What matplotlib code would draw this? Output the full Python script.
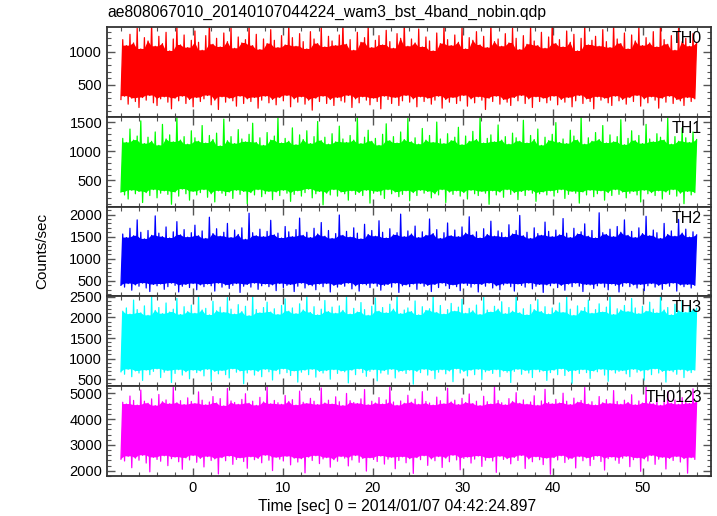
import numpy as np
import matplotlib
matplotlib.use("Agg")
import matplotlib.pyplot as plt
from matplotlib.ticker import MultipleLocator

plt.rcParams["font.family"] = ["Liberation Sans", "DejaVu Sans"]

TITLE = "ae808067010_20140107044224_wam3_bst_4band_nobin.qdp"
XLABEL = "Time [sec] 0 = 2014/01/07 04:42:24.897"
YLABEL = "Counts/sec"

T_START, T_STOP = -8.0, 56.0

bands = ["TH0", "TH1", "TH2", "TH3", "TH0123"]
colors = ["#ff0000", "#00ff00", "#0000ff", "#00ffff", "#ff00ff"]
ylims = [(20, 1370), (50, 1590), (150, 2180), (330, 2510), (1800, 5270)]
major_step = [500, 500, 500, 500, 1000]
minor_step = [100, 100, 100, 100, 200]

# peak / trough of the count rate in each 0.4 s slice
th0_hi = [
    1180, 1090, 1260, 1130, 1350, 1040, 1210, 1160, 1420, 1080, 1230, 1120, 1290, 1010, 1190, 1380, 1100, 1250, 1060, 1170,
    1310, 1140, 1020, 1240, 1450, 1110, 1200, 1070, 1280, 1150, 1360, 1050, 1220, 1130, 1180, 1400, 1090, 1260, 1030, 1190,
    1120, 1330, 1170, 1060, 1240, 1100, 1410, 1210, 1080, 1270, 1150, 1040, 1300, 1190, 1120, 1370, 1070, 1230, 1160, 1090,
    1250, 1440, 1110, 1180, 1020, 1290, 1140, 1210, 1390, 1060, 1170, 1240, 1100, 1320, 1150, 1050, 1270, 1200, 1430, 1080,
    1190, 1130, 1340, 1070, 1220, 1160, 1010, 1280, 1120, 1400, 1180, 1090, 1250, 1140, 1360, 1040, 1210, 1170, 1300, 1100,
    1230, 1060, 1420, 1150, 1190, 1080, 1270, 1130, 1350, 1200, 1030, 1240, 1110, 1380, 1160, 1090, 1290, 1050, 1220, 1450,
    1120, 1180, 1070, 1310, 1140, 1260, 1010, 1200, 1390, 1100, 1170, 1230, 1080, 1330, 1150, 1060, 1410, 1190, 1120, 1280,
    1040, 1250, 1160, 1370, 1090, 1210, 1130, 1300, 1070, 1440, 1180, 1110, 1240, 1020, 1350, 1150, 1200, 1080, 1270, 1130,
]
th0_lo = [
    280, 330, 210, 300, 250, 160, 310, 270, 340, 230, 190, 290, 320, 240, 140, 300, 260, 330, 220, 280,
    170, 310, 250, 290, 340, 200, 270, 130, 320, 240, 300, 260, 180, 330, 220, 290, 250, 310, 150, 270,
    330, 230, 280, 200, 310, 260, 340, 170, 290, 240, 320, 210, 270, 120, 300, 250, 330, 220, 280, 190,
    310, 260, 240, 340, 160, 290, 230, 320, 270, 200, 300, 250, 140, 330, 280, 220, 310, 190, 260, 340,
    240, 290, 170, 320, 250, 300, 210, 270, 330, 150, 280, 240, 310, 220, 260, 340, 180, 290, 230, 320,
    270, 130, 300, 250, 330, 210, 280, 240, 190, 310, 260, 340, 220, 290, 160, 320, 250, 300, 230, 270,
    330, 200, 280, 240, 310, 170, 260, 340, 220, 290, 250, 140, 320, 270, 300, 230, 190, 330, 260, 280,
    210, 310, 250, 340, 180, 290, 230, 320, 270, 150, 300, 240, 330, 220, 280, 260, 190, 310, 250, 290,
]
th1_hi = [
    1220, 1150, 1380, 1190, 1260, 1520, 1130, 1240, 1170, 1330, 1100, 1460, 1210, 1280, 1160, 1590, 1190, 1250, 1120, 1350,
    1230, 1170, 1440, 1140, 1270, 1200, 1310, 1090, 1550, 1180, 1250, 1130, 1370, 1210, 1160, 1290, 1480, 1150, 1230, 1100,
    1320, 1190, 1260, 1570, 1140, 1220, 1170, 1400, 1110, 1280, 1200, 1350, 1130, 1250, 1510, 1180, 1240, 1120, 1300, 1160,
    1430, 1210, 1150, 1270, 1190, 1600, 1130, 1240, 1360, 1170, 1220, 1100, 1290, 1470, 1180, 1250, 1140, 1330, 1200, 1560,
    1160, 1230, 1120, 1390, 1190, 1270, 1150, 1500, 1210, 1130, 1300, 1180, 1240, 1410, 1110, 1260, 1170, 1340, 1200, 1580,
    1140, 1220, 1280, 1160, 1450, 1190, 1250, 1120, 1310, 1230, 1170, 1530, 1140, 1270, 1200, 1380, 1100, 1240, 1180, 1290,
    1490, 1150, 1210, 1130, 1360, 1260, 1190, 1590, 1120, 1230, 1170, 1320, 1200, 1440, 1140, 1280, 1160, 1250, 1540, 1110,
    1220, 1350, 1180, 1270, 1130, 1460, 1210, 1160, 1300, 1240, 1190, 1570, 1120, 1250, 1170, 1400, 1230, 1150, 1330, 1200,
]
th1_lo = [
    300, 250, 180, 330, 270, 310, 120, 290, 240, 340, 200, 280, 320, 260, 90, 300, 230, 350, 270, 160,
    310, 250, 290, 340, 210, 270, 130, 320, 280, 240, 300, 190, 330, 260, 310, 100, 290, 250, 340, 220,
    270, 310, 170, 300, 240, 330, 280, 140, 260, 320, 230, 290, 350, 200, 270, 310, 80, 280, 250, 340,
    230, 300, 270, 160, 320, 260, 290, 240, 330, 110, 280, 310, 250, 190, 340, 270, 300, 220, 260, 320,
    150, 290, 240, 330, 280, 310, 200, 270, 250, 340, 120, 300, 260, 320, 230, 290, 180, 330, 270, 240,
    310, 280, 90, 320, 250, 300, 210, 340, 260, 290, 170, 310, 240, 330, 280, 140, 270, 300, 250, 320,
    230, 290, 340, 190, 260, 310, 280, 110, 300, 250, 330, 220, 270, 320, 160, 290, 240, 340, 260, 300,
    200, 280, 310, 250, 130, 330, 270, 290, 240, 320, 180, 300, 260, 340, 230, 280, 100, 310, 250, 290,
]
th2_hi = [
    1560, 1480, 1690, 1520, 1880, 1600, 1450, 1640, 1530, 1970, 1580, 1500, 1720, 1470, 1610, 1840, 1540, 1660, 1490, 1590,
    1760, 1520, 1630, 1460, 1940, 1570, 1680, 1510, 1600, 1800, 1480, 1650, 1550, 1700, 1440, 2030, 1590, 1520, 1670, 1500,
    1620, 1870, 1540, 1580, 1470, 1730, 1610, 1500, 1660, 1920, 1530, 1600, 1480, 1690, 1560, 1820, 1510, 1640, 1460, 1570,
    1990, 1530, 1620, 1490, 1700, 1580, 1450, 1780, 1550, 1640, 1510, 1860, 1600, 1470, 1680, 1540, 1590, 2010, 1500, 1630,
    1560, 1740, 1480, 1610, 1530, 1900, 1570, 1660, 1460, 1590, 1810, 1520, 1650, 1500, 1720, 1580, 1950, 1540, 1610, 1470,
    1680, 1550, 1850, 1510, 1630, 1590, 1490, 1770, 1560, 1640, 1980, 1520, 1600, 1460, 1700, 1570, 1530, 1830, 1620, 1500,
    1650, 1540, 1910, 1580, 1480, 1690, 1560, 1610, 1790, 1510, 1640, 1470, 2040, 1590, 1550, 1670, 1500, 1730, 1600, 1880,
    1530, 1620, 1480, 1700, 1570, 1960, 1520, 1650, 1590, 1460, 1800, 1550, 1630, 1510, 1890, 1580, 1670, 1490, 1610, 1540,
]
th2_lo = [
    400, 360, 440, 290, 410, 380, 450, 340, 260, 420, 390, 430, 310, 370, 450, 400, 250, 380, 420, 350,
    440, 300, 410, 370, 430, 390, 270, 450, 360, 410, 330, 400, 440, 240, 380, 420, 360, 450, 310, 390,
    430, 370, 410, 280, 440, 350, 400, 420, 260, 380, 450, 340, 410, 390, 300, 430, 370, 440, 250, 400,
    360, 420, 380, 450, 320, 390, 270, 430, 410, 350, 440, 380, 290, 400, 420, 360, 450, 240, 390, 410,
    370, 430, 310, 440, 380, 400, 260, 420, 350, 450, 390, 330, 410, 370, 280, 440, 400, 360, 430, 250,
    420, 380, 450, 340, 390, 300, 410, 440, 370, 270, 430, 400, 360, 450, 320, 380, 420, 240, 410, 390,
    440, 350, 400, 290, 430, 370, 450, 380, 260, 420, 410, 330, 390, 440, 360, 300, 430, 400, 250, 380,
    450, 370, 410, 340, 420, 280, 390, 440, 360, 400, 310, 430, 380, 450, 270, 410, 370, 420, 340, 400,
]
th3_hi = [
    2150, 2230, 2080, 2420, 2190, 2110, 2280, 2050, 2510, 2170, 2240, 2090, 2350, 2130, 2200, 2460, 2070, 2260, 2140, 2300,
    2100, 2550, 2180, 2220, 2060, 2390, 2160, 2250, 2120, 2480, 2200, 2080, 2310, 2140, 2270, 2040, 2530, 2190, 2110, 2240,
    2370, 2130, 2210, 2070, 2290, 2450, 2150, 2230, 2090, 2330, 2180, 2540, 2120, 2260, 2060, 2200, 2410, 2140, 2250, 2100,
    2280, 2170, 2500, 2080, 2220, 2130, 2360, 2190, 2050, 2270, 2470, 2150, 2240, 2110, 2320, 2200, 2560, 2090, 2180, 2230,
    2140, 2400, 2060, 2260, 2170, 2210, 2520, 2120, 2290, 2080, 2190, 2340, 2150, 2250, 2440, 2100, 2220, 2160, 2300, 2070,
    2490, 2180, 2130, 2270, 2200, 2380, 2090, 2240, 2150, 2550, 2110, 2210, 2060, 2310, 2190, 2430, 2140, 2260, 2080, 2230,
    2170, 2350, 2120, 2500, 2200, 2050, 2280, 2160, 2240, 2420, 2100, 2190, 2330, 2130, 2250, 2530, 2070, 2210, 2180, 2290,
    2140, 2460, 2230, 2090, 2270, 2150, 2370, 2200, 2110, 2540, 2180, 2240, 2060, 2320, 2160, 2410, 2120, 2260, 2190, 2220,
]
th3_lo = [
    680, 620, 740, 560, 700, 650, 470, 720, 610, 690, 750, 540, 670, 710, 420, 640, 730, 600, 680, 510,
    720, 660, 700, 580, 740, 450, 690, 630, 710, 610, 530, 750, 670, 700, 390, 650, 720, 600, 690, 560,
    740, 680, 480, 710, 630, 750, 660, 590, 700, 430, 670, 720, 610, 740, 550, 690, 650, 710, 500, 730,
    640, 700, 680, 410, 720, 610, 750, 660, 570, 690, 730, 460, 650, 710, 620, 740, 530, 680, 700, 640,
    720, 380, 690, 660, 740, 600, 710, 510, 670, 730, 630, 700, 440, 750, 650, 690, 580, 720, 610, 740,
    490, 680, 710, 640, 730, 560, 700, 670, 420, 690, 740, 620, 710, 650, 540, 730, 680, 700, 470, 660,
    720, 610, 750, 590, 690, 400, 710, 640, 730, 660, 520, 700, 680, 740, 600, 450, 720, 650, 690, 710,
    630, 560, 740, 670, 700, 480, 720, 610, 750, 650, 690, 430, 710, 680, 620, 730, 540, 700, 660, 720,
]
th0123_hi = [
    4650, 4580, 4890, 4720, 4540, 5120, 4690, 4610, 4780, 4520, 4950, 4670, 4740, 4590, 5230, 4630, 4710, 4560, 4820, 4680,
    4600, 5050, 4730, 4550, 4660, 4870, 4620, 4790, 4510, 5180, 4700, 4640, 4570, 4760, 4980, 4610, 4690, 4530, 4840, 4660,
    5260, 4590, 4720, 4630, 4570, 4910, 4680, 4750, 4540, 5080, 4650, 4600, 4800, 4690, 4560, 5200, 4620, 4730, 4580, 4860,
    4670, 4520, 4990, 4710, 4640, 4600, 4780, 5140, 4550, 4690, 4620, 4830, 4580, 4740, 5250, 4660, 4530, 4700, 4610, 4920,
    4650, 4770, 4570, 5060, 4680, 4620, 4540, 4850, 4710, 4590, 5190, 4660, 4730, 4560, 4800, 4640, 4970, 4600, 4690, 4520,
    4880, 4670, 4580, 5270, 4720, 4630, 4550, 4790, 4680, 5020, 4610, 4740, 4570, 4660, 4900, 4530, 4700, 5150, 4640, 4590,
    4760, 4620, 5000, 4690, 4560, 4810, 4650, 4720, 5220, 4580, 4670, 4540, 4870, 4630, 4750, 4600, 5100, 4680, 4570, 4730,
    4640, 4940, 4550, 4700, 4620, 5240, 4660, 4590, 4780, 4530, 4690, 5040, 4610, 4740, 4570, 4830, 4650, 4600, 5170, 4680,
]
th0123_lo = [
    2450, 2380, 2560, 2120, 2490, 2410, 2600, 2300, 1960, 2520, 2440, 2370, 2580, 2200, 2470, 2530, 2350, 2060, 2500, 2420,
    2590, 2330, 2480, 2150, 2550, 2400, 2460, 1880, 2510, 2390, 2570, 2250, 2440, 2500, 2360, 2100, 2540, 2430, 2480, 2310,
    2600, 2410, 2010, 2520, 2450, 2380, 2560, 2230, 2490, 2340, 2470, 1920, 2530, 2400, 2580, 2280, 2460, 2510, 2140, 2430,
    2370, 2550, 2490, 2190, 2420, 2590, 2330, 2480, 1990, 2500, 2440, 2360, 2570, 2260, 2450, 2520, 2080, 2400, 2540, 2310,
    2470, 1900, 2510, 2430, 2580, 2210, 2460, 2390, 2550, 2130, 2490, 2350, 2600, 2420, 2040, 2480, 2530, 2300, 2450, 2570,
    2170, 2410, 2500, 2380, 1940, 2560, 2440, 2470, 2270, 2520, 2400, 2590, 2090, 2460, 2350, 2540, 2430, 2240, 2490, 1870,
    2510, 2420, 2580, 2320, 2450, 2480, 2110, 2550, 2390, 2500, 2200, 2440, 2570, 2360, 2030, 2470, 2530, 2410, 2290, 2490,
    2560, 2160, 2430, 2500, 1980, 2460, 2380, 2590, 2250, 2450, 2520, 2070, 2480, 2400, 2550, 2340, 2470, 1910, 2510, 2440,
]

series = [(th0_lo, th0_hi), (th1_lo, th1_hi), (th2_lo, th2_hi),
          (th3_lo, th3_hi), (th0123_lo, th0123_hi)]


def draw_band(ax, lo, hi, color):
    n = min(len(lo), len(hi))
    lo = np.asarray(lo[:n], dtype=float)
    hi = np.asarray(hi[:n], dtype=float)
    # troughs sit at the start of each slice, peaks half a slice later
    t = np.linspace(T_START, T_STOP, 2 * n)
    t_lo, t_hi = t[0::2], t[1::2]

    # densely packed part of the band: what neighbouring slices share
    hp = np.pad(hi, 1, mode="edge")
    lp = np.pad(lo, 1, mode="edge")
    core_top = np.minimum(np.minimum(hp[:-2], hp[1:-1]), hp[2:])
    core_bot = np.maximum(np.maximum(lp[:-2], lp[1:-1]), lp[2:])
    ax.fill(np.concatenate([t_hi, t_lo[::-1]]),
            np.concatenate([core_top, core_bot[::-1]]),
            color=color, lw=0)

    # the light curve itself, zig-zagging trough -> peak
    y = np.empty(2 * n)
    y[0::2] = lo
    y[1::2] = hi
    ax.plot(t, y, color=color, lw=0.9)


def style_axis(ax, ylo, yhi, major, minor):
    ax.set_xlim(-9.55, 57.6)
    ax.set_ylim(ylo, yhi)
    ax.xaxis.set_major_locator(MultipleLocator(10))
    ax.xaxis.set_minor_locator(MultipleLocator(2))
    ax.yaxis.set_major_locator(MultipleLocator(major))
    ax.yaxis.set_minor_locator(MultipleLocator(minor))
    ax.tick_params(which="both", direction="in", top=True, right=True,
                   color="#555555", labelsize=10.5)
    ax.tick_params(which="major", length=6, width=1.0)
    ax.tick_params(which="minor", length=3, width=0.8)
    for sp in ax.spines.values():
        sp.set_linewidth(1.3)
        sp.set_color("#333333")


fig = plt.figure(figsize=(7.17, 5.16), dpi=100)
left, width = 107 / 717, 604 / 717
bottom, panel_h = 40 / 516, 89.8 / 516

axes = []
for i in range(len(bands)):
    y0 = bottom + (len(bands) - 1 - i) * panel_h
    ax = fig.add_axes([left, y0, width, panel_h])
    draw_band(ax, series[i][0], series[i][1], colors[i])
    style_axis(ax, ylims[i][0], ylims[i][1], major_step[i], minor_step[i])
    ax.text(0.985, 0.955, bands[i], transform=ax.transAxes, ha="right",
            va="top", fontsize=11.5)
    if i < len(bands) - 1:
        ax.tick_params(labelbottom=False)
    axes.append(ax)

fig.text(397 / 717, 1 - 507 / 516, XLABEL, ha="center", va="center", fontsize=11.3)
fig.text(107 / 717, 1 - 12 / 516, TITLE, ha="left", va="center", fontsize=11.3)
fig.text(42 / 717, 1 - 251 / 516, YLABEL, ha="center", va="center",
         rotation=90, fontsize=11)

fig.savefig("out.png", dpi=100)
